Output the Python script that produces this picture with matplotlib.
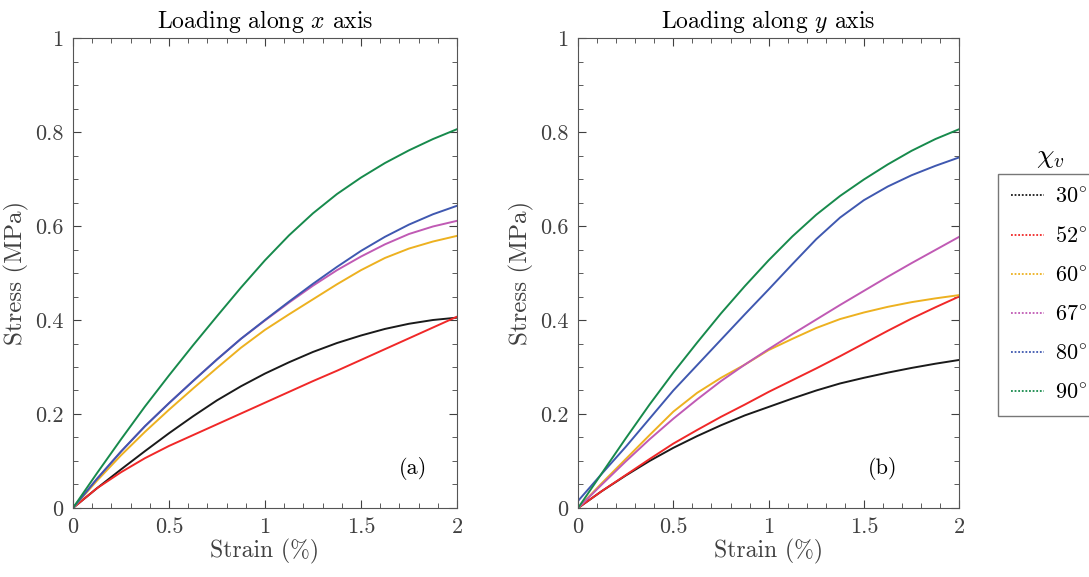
import numpy as np
import matplotlib
matplotlib.use("Agg")
import matplotlib.pyplot as plt
from matplotlib.lines import Line2D
from matplotlib.ticker import MultipleLocator

plt.rcParams['font.family'] = 'serif'
plt.rcParams['font.serif'] = ['cmr10']
plt.rcParams['mathtext.fontset'] = 'cm'
plt.rcParams['axes.formatter.use_mathtext'] = True
plt.rcParams['axes.unicode_minus'] = False

# strain (%) grid
strain = [0, 0.125, 0.25, 0.375, 0.5, 0.625, 0.75, 0.875, 1.0,
          1.125, 1.25, 1.375, 1.5, 1.625, 1.75, 1.875, 2.0]

angles = ['30', '52', '60', '67', '80', '90']
colors = ['#1a1a1a', '#f02828', '#edb120', '#c05ab4', '#3f58b0', '#178a4c']

# loading along x (MPa)
x_30 = [0, 0.042, 0.082, 0.121, 0.159, 0.195, 0.229, 0.259, 0.286,
        0.310, 0.332, 0.351, 0.367, 0.381, 0.392, 0.400, 0.405]
x_52 = [0, 0.042, 0.076, 0.106, 0.132, 0.155, 0.178, 0.201, 0.224,
        0.247, 0.270, 0.292, 0.315, 0.338, 0.361, 0.384, 0.407]
x_60 = [0, 0.058, 0.112, 0.162, 0.209, 0.254, 0.298, 0.341, 0.379,
        0.412, 0.444, 0.476, 0.506, 0.532, 0.552, 0.567, 0.579]
x_67 = [0, 0.062, 0.120, 0.174, 0.223, 0.270, 0.316, 0.360, 0.399,
        0.437, 0.473, 0.506, 0.535, 0.561, 0.583, 0.599, 0.611]
x_80 = [0, 0.062, 0.120, 0.174, 0.223, 0.270, 0.316, 0.360, 0.400,
        0.439, 0.477, 0.513, 0.547, 0.577, 0.603, 0.625, 0.643]
x_90 = [0, 0.074, 0.146, 0.216, 0.282, 0.346, 0.408, 0.469, 0.527,
        0.580, 0.627, 0.668, 0.703, 0.734, 0.761, 0.785, 0.806]

# loading along y (MPa)
y_30 = [0, 0.036, 0.069, 0.100, 0.128, 0.153, 0.176, 0.197, 0.215,
        0.233, 0.250, 0.265, 0.277, 0.288, 0.298, 0.307, 0.315]
y_52 = [0, 0.036, 0.070, 0.104, 0.137, 0.166, 0.194, 0.220, 0.247,
        0.272, 0.297, 0.323, 0.350, 0.377, 0.403, 0.427, 0.450]
y_60 = [0, 0.053, 0.104, 0.155, 0.205, 0.245, 0.277, 0.305, 0.336,
        0.360, 0.383, 0.402, 0.416, 0.428, 0.438, 0.446, 0.453]
y_67 = [0, 0.050, 0.099, 0.146, 0.190, 0.231, 0.270, 0.305, 0.338,
        0.370, 0.401, 0.432, 0.462, 0.492, 0.521, 0.549, 0.577]
y_80 = [0.015, 0.073, 0.130, 0.190, 0.250, 0.304, 0.358, 0.412, 0.465,
        0.519, 0.572, 0.618, 0.655, 0.684, 0.708, 0.728, 0.746]
y_90 = [0, 0.074, 0.148, 0.220, 0.288, 0.352, 0.414, 0.472, 0.527,
        0.578, 0.624, 0.664, 0.699, 0.731, 0.760, 0.785, 0.806]

fig = plt.figure(figsize=(10.89, 5.77), dpi=100)
ax1 = fig.add_axes([0.067, 0.1196, 0.3526, 0.8145])
ax2 = fig.add_axes([0.5308, 0.1196, 0.350, 0.8145])

panels = [(ax1, [x_30, x_52, x_60, x_67, x_80, x_90], 'Loading along $x$ axis', '(a)', 1.77),
          (ax2, [y_30, y_52, y_60, y_67, y_80, y_90], 'Loading along $y$ axis', '(b)', 1.6)]

grey = '#404040'
for ax, series, title, tag, tx in panels:
    for s, c in zip(series, colors):
        ax.plot(strain, s, color=c, lw=1.4)
    ax.set_xlim(0, 2)
    ax.set_ylim(0, 1)
    ax.xaxis.set_minor_locator(MultipleLocator(0.1))
    ax.yaxis.set_minor_locator(MultipleLocator(0.05))
    ax.set_xticks([0, 0.5, 1, 1.5, 2])
    ax.set_xticklabels(['0', '0.5', '1', '1.5', '2'])
    ax.set_yticks([0, 0.2, 0.4, 0.6, 0.8, 1])
    ax.set_yticklabels(['0', '0.2', '0.4', '0.6', '0.8', '1'])
    ax.tick_params(which='both', direction='in', top=True, right=True,
                   colors=grey, labelsize=16, pad=7)
    ax.tick_params(which='major', length=6)
    ax.tick_params(which='minor', length=3.5)
    for sp in ax.spines.values():
        sp.set_color('#555555')
    ax.set_title(title, fontsize=17, pad=7)
    ax.set_xlabel('Strain (%)', fontsize=17, color=grey, labelpad=1)
    ax.set_ylabel('Stress (MPa)', fontsize=18, color=grey, labelpad=4)
    ax.text(tx, 0.085, tag, fontsize=16, ha='center', va='center')

handles = [Line2D([0], [0], color=c, lw=1.3, ls=(0, (1, 1))) for c in colors]
labels = [r'$%s^{\circ}$' % a for a in angles]
fig.legend(handles, labels, loc='upper left', bbox_to_anchor=(998 / 1089, 1 - 174 / 577),
           borderaxespad=0, fontsize=16, frameon=True, fancybox=False,
           edgecolor='#555555', handlelength=1.45, handletextpad=0.5,
           labelspacing=0.88, borderpad=0.6)
fig.text(1050 / 1089, 1 - 157 / 577, r'$\chi_v$', fontsize=20, ha='center', va='center')

fig.savefig('out.png', dpi=100)
